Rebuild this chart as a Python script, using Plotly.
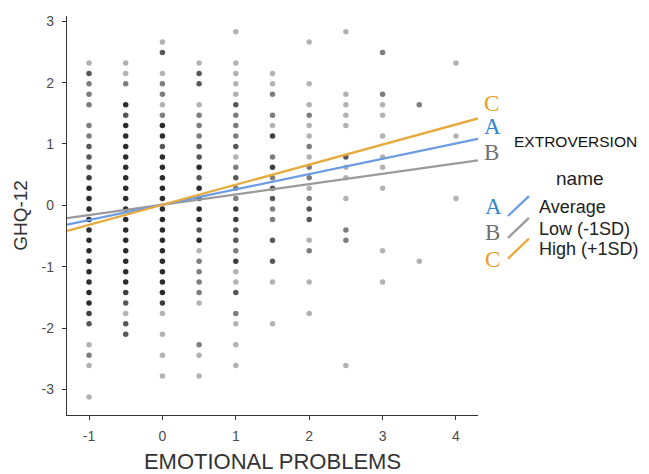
import plotly.graph_objects as go

# ---- data ----
# emotional problems (x columns) and GHQ-12 values with overlap counts
x_m10 = -1.0
y_m10 = [2.32, 2.15, 1.98, 1.81, 1.64, 1.30, 1.13, 0.96, 0.79, 0.62, 0.45, 0.28, 0.11, -0.06, -0.23,
         -0.40, -0.57, -0.74, -0.91, -1.08, -1.25, -1.42, -1.59, -1.76, -1.93, -2.27, -2.44, -2.61, -3.12]
n_m10 = [1, 3, 2, 2, 2, 2, 2, 3, 3, 3, 4, 5, 5, 5, 5, 5, 5, 5, 5, 5, 5, 5, 5, 4, 3, 1, 2, 1, 1]

x_m05 = -0.5
y_m05 = [2.32, 2.15, 1.98, 1.64, 1.47, 1.30, 1.13, 0.96, 0.79, 0.62, 0.45, 0.28, 0.11, -0.06, -0.23,
         -0.40, -0.57, -0.74, -0.91, -1.08, -1.25, -1.42, -1.59, -1.76, -1.93, -2.10]
n_m05 = [1, 1, 2, 5, 3, 5, 5, 5, 5, 5, 5, 5, 5, 5, 5, 5, 5, 5, 5, 5, 5, 4, 3, 1, 3, 3]

x_p00 = 0.0
y_p00 = [2.66, 2.49, 2.15, 1.98, 1.81, 1.64, 1.47, 1.30, 1.13, 0.96, 0.79, 0.62, 0.45, 0.28, 0.11,
         -0.06, -0.23, -0.40, -0.57, -0.74, -0.91, -1.08, -1.25, -1.42, -1.59, -1.76, -2.10, -2.44, -2.78]
n_p00 = [1, 3, 1, 2, 2, 1, 2, 5, 5, 3, 5, 5, 5, 5, 5, 5, 5, 5, 5, 5, 5, 5, 5, 5, 4, 1, 1, 1, 1]

x_p05 = 0.5
y_p05 = [2.32, 2.15, 1.98, 1.64, 1.47, 1.30, 1.13, 0.96, 0.79, 0.62, 0.45, 0.28, 0.11, -0.06, -0.23,
         -0.40, -0.57, -0.74, -0.91, -1.08, -1.25, -1.42, -1.59, -2.27, -2.44, -2.78]
n_p05 = [1, 3, 3, 1, 2, 2, 2, 3, 3, 5, 3, 5, 4, 5, 5, 3, 5, 1, 2, 2, 2, 2, 1, 2, 1, 1]

x_p10 = 1.0
y_p10 = [2.83, 2.32, 2.15, 1.98, 1.81, 1.64, 1.47, 1.30, 1.13, 0.96, 0.79, 0.62, 0.45, 0.28, 0.11,
         -0.06, -0.23, -0.40, -0.57, -0.74, -0.91, -1.08, -1.25, -1.42, -1.76, -1.93, -2.27, -2.61]
n_p10 = [1, 1, 1, 1, 1, 3, 2, 2, 2, 3, 1, 2, 3, 2, 2, 4, 4, 3, 3, 2, 4, 1, 1, 3, 2, 1, 1, 1]

x_p15 = 1.5
y_p15 = [2.15, 1.98, 1.81, 1.47, 1.30, 1.13, 0.79, 0.62, 0.45, 0.28, 0.11, -0.06, -0.23, -0.57,
         -0.91, -1.25, -1.93]
n_p15 = [1, 1, 2, 2, 1, 4, 2, 4, 2, 3, 3, 2, 2, 3, 3, 1, 1]

x_p20 = 2.0
y_p20 = [2.66, 1.98, 1.64, 1.47, 1.30, 1.13, 0.96, 0.79, 0.62, 0.45, 0.28, 0.11, -0.06, -0.23,
         -0.57, -0.74, -1.25, -1.76]
n_p20 = [1, 1, 1, 2, 1, 1, 2, 1, 2, 2, 1, 2, 3, 3, 1, 2, 1, 1]

x_p25 = 2.5
y_p25 = [2.83, 1.81, 1.64, 1.47, 1.30, 0.79, 0.62, 0.45, 0.11, -0.40, -0.57, -2.61]
n_p25 = [1, 1, 1, 1, 1, 3, 1, 1, 1, 2, 2, 1]

x_p30 = 3.0
y_p30 = [2.49, 1.81, 1.64, 1.47, 1.13, 0.79, 0.62, 0.28, -0.74, -1.25]
n_p30 = [2, 2, 1, 1, 1, 1, 1, 1, 1, 1]

x_p35 = 3.5
y_p35 = [1.64, -0.91]
n_p35 = [2, 1]

x_p40 = 4.0
y_p40 = [2.32, 1.13, 0.11]
n_p40 = [1, 1, 1]

# simple slopes by extroversion level
line_names = ["Average", "Low (-1SD)", "High (+1SD)"]
line_letters = ["A", "B", "C"]
line_intercepts = [0.01, 0.01, 0.01]
line_slopes = [0.25, 0.168, 0.327]

x_ticks = [-1, 0, 1, 2, 3, 4]
y_ticks = [-3, -2, -1, 0, 1, 2, 3]
x_range = [-1.3, 4.3]
y_range = [-3.415, 3.085]

# ---- styling ----
line_colors = ["#6b9be3", "#9a9a9a", "#e7aa3c"]
letter_colors = ["#2f86cf", "#707070", "#e5a01e"]

columns = [(x_m10, y_m10, n_m10), (x_m05, y_m05, n_m05), (x_p00, y_p00, n_p00),
           (x_p05, y_p05, n_p05), (x_p10, y_p10, n_p10), (x_p15, y_p15, n_p15),
           (x_p20, y_p20, n_p20), (x_p25, y_p25, n_p25), (x_p30, y_p30, n_p30),
           (x_p35, y_p35, n_p35), (x_p40, y_p40, n_p40)]

px, py, pop = [], [], []
for cx, ys, ns in columns:
    for yv, nv in zip(ys, ns):
        px.append(cx)
        py.append(yv)
        pop.append(1 - (0.7 ** nv))

fig = go.Figure()
fig.add_trace(go.Scatter(
    x=px, y=py, mode="markers",
    marker=dict(color="black", size=5.5, opacity=pop, line=dict(width=0)),
    showlegend=False, hoverinfo="skip"))

draw_order = [1, 0, 2]
for i in draw_order:
    xs = x_range
    ys = [line_intercepts[i] + line_slopes[i] * xv for xv in xs]
    fig.add_trace(go.Scatter(x=xs, y=ys, mode="lines",
                             line=dict(color=line_colors[i], width=2.3),
                             showlegend=False, hoverinfo="skip"))

ann = []
# letters at line ends (paper coords)
end_pos = {"C": 0.780, "A": 0.722, "B": 0.658}
for i, L in enumerate(line_letters):
    ann.append(dict(x=1.010, y=end_pos[L], xref="paper", yref="paper", text=L,
                    showarrow=False, xanchor="left", yanchor="middle",
                    font=dict(family="Liberation Serif", size=23, color=letter_colors[i])))

ann.append(dict(x=1.238, y=0.685, xref="paper", yref="paper", text="EXTROVERSION",
                showarrow=False, xanchor="center", yanchor="middle",
                font=dict(family="Liberation Sans", size=15.5, color="#111111")))
ann.append(dict(x=1.247, y=0.593, xref="paper", yref="paper", text="name",
                showarrow=False, xanchor="center", yanchor="middle",
                font=dict(family="Liberation Sans", size=19, color="#222222")))

leg_y_letter = [0.5236, 0.457, 0.3896]
leg_y_label = [0.521, 0.467, 0.417]
leg_seg = [(0.4988, 0.5484), (0.444, 0.494), (0.392, 0.442)]
shapes = []
for i in range(3):
    ann.append(dict(x=1.012, y=leg_y_letter[i], xref="paper", yref="paper", text=line_letters[i],
                    showarrow=False, xanchor="left", yanchor="middle",
                    font=dict(family="Liberation Serif", size=23, color=letter_colors[i])))
    ann.append(dict(x=1.143, y=leg_y_label[i], xref="paper", yref="paper", text=line_names[i],
                    showarrow=False, xanchor="left", yanchor="middle",
                    font=dict(family="Liberation Sans", size=18, color="#222222")))
    shapes.append(dict(type="line", xref="paper", yref="paper",
                       x0=1.073, x1=1.124, y0=leg_seg[i][0], y1=leg_seg[i][1],
                       line=dict(color=line_colors[i], width=2.3)))

# page body has an 8px default margin: size the figure to fit the window
fig.update_layout(
    width=641, height=466,
    margin=dict(l=59, r=171, t=5, b=58),
    paper_bgcolor="white", plot_bgcolor="white",
    font=dict(family="Liberation Sans", color="#4d4d4d"),
    annotations=ann, shapes=shapes, showlegend=False,
)
fig.update_xaxes(range=x_range, tickvals=x_ticks, ticktext=[str(v) for v in x_ticks],
                 showgrid=False, zeroline=False, showline=True, linecolor="#333333", linewidth=1.3,
                 ticks="outside", ticklen=4, tickcolor="#333333", tickwidth=1.3,
                 ticklabelstandoff=4,
                 tickfont=dict(size=14, color="#4d4d4d"),
                 title=dict(text="EMOTIONAL PROBLEMS", font=dict(size=22, color="#333333"), standoff=10))
fig.update_yaxes(range=y_range, tickvals=y_ticks, ticktext=[str(v) for v in y_ticks],
                 showgrid=False, zeroline=False, showline=True, linecolor="#333333", linewidth=1.3,
                 ticks="outside", ticklen=4, tickcolor="#333333", tickwidth=1.3,
                 ticklabelstandoff=5,
                 tickfont=dict(size=14, color="#4d4d4d"),
                 title=dict(text="GHQ-12", font=dict(size=19, color="#333333"), standoff=8))

fig.write_html("out.html")
